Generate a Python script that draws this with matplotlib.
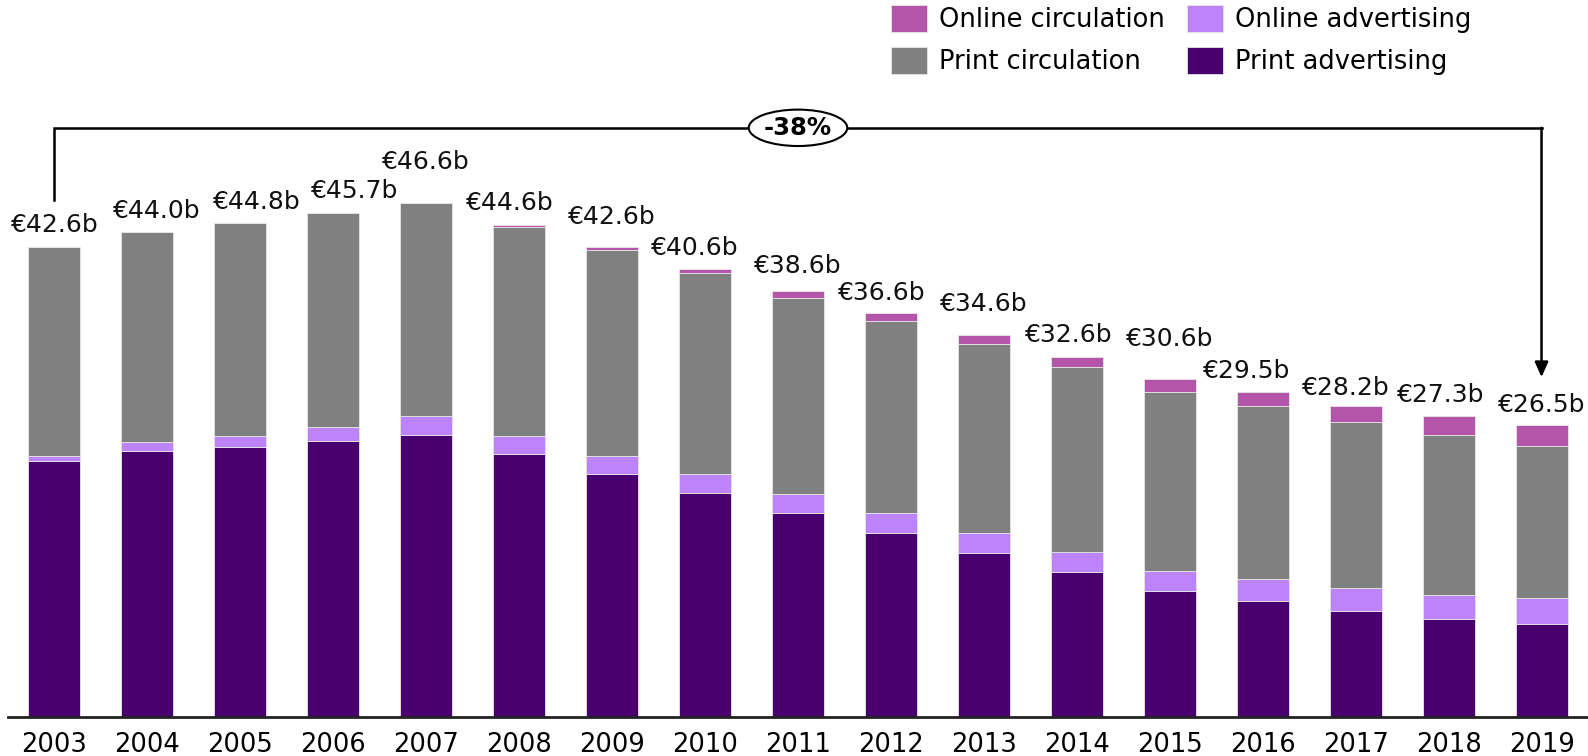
import numpy as np
import matplotlib.pyplot as plt
from matplotlib.patches import Ellipse

# data (EUR billions)
years = [str(y) for y in range(2003, 2020)]
print_adv = [23.2, 24.1, 24.5, 25.0, 25.6, 23.8, 22.0, 20.3, 18.5, 16.7, 14.9, 13.1, 11.4, 10.5, 9.6, 8.9, 8.4]
online_adv = [0.5, 0.8, 1.0, 1.3, 1.7, 1.7, 1.7, 1.7, 1.7, 1.8, 1.8, 1.9, 1.8, 2.0, 2.1, 2.2, 2.4]
print_circ = [18.9, 19.1, 19.3, 19.4, 19.3, 18.9, 18.6, 18.2, 17.8, 17.4, 17.1, 16.7, 16.3, 15.7, 15.0, 14.5, 13.8]
online_circ = [0.0, 0.0, 0.0, 0.0, 0.0, 0.2, 0.3, 0.4, 0.6, 0.7, 0.8, 0.9, 1.1, 1.3, 1.5, 1.7, 1.9]
totals = ["€42.6b", "€44.0b", "€44.8b", "€45.7b", "€46.6b", "€44.6b", "€42.6b", "€40.6b", "€38.6b",
          "€36.6b", "€34.6b", "€32.6b", "€30.6b", "€29.5b", "€28.2b", "€27.3b", "€26.5b"]
change = "-38%"

# label nudges (pixels) to keep the totals from colliding
lab_dx = [0, 9, 17, 21, 0, -9, 0, -10, 0, -9, 0, -8, 0, -16, -10, -8, 0]
lab_dy = [22, 21, 21, 22, 41, 22, 30, 21, 25, 20, 31, 22, 40, 21, 18, 21, 20]

c_padv = "#47006E"
c_oadv = "#BD83FB"
c_pcirc = "#808080"
c_ocirc = "#B355A8"

plt.rcParams['font.family'] = ['DejaVu Sans']

fig = plt.figure(figsize=(15.88, 7.56), dpi=100)
ax = fig.add_axes([8/1588, 39/756, 1 - 8/1588, 662/756])

x = np.arange(len(years))
w = 0.56
pa = np.array(print_adv)
oa = np.array(online_adv)
pc = np.array(print_circ)
oc = np.array(online_circ)
tot = pa + oa + pc + oc

kw = dict(width=w, edgecolor="#e6e6e6", linewidth=0.6)
b1 = ax.bar(x, pa, color=c_padv, label="Print advertising", **kw)
b2 = ax.bar(x, oa, bottom=pa, color=c_oadv, label="Online advertising", **kw)
b3 = ax.bar(x, pc, bottom=pa + oa, color=c_pcirc, label="Print circulation", **kw)
b4 = ax.bar(x, oc, bottom=pa + oa + pc, color=c_ocirc, label="Online circulation", **kw)

for i in range(len(years)):
    ax.annotate(totals[i], (x[i], tot[i]), xytext=(lab_dx[i] * 0.72, lab_dy[i] * 0.72),
                textcoords="offset points", ha="center", va="center", fontsize=18,
                color="#111111", annotation_clip=False)

ax.set_xlim(-0.5, len(years) - 0.5)
ax.set_ylim(0, 60)
ax.set_xticks(x)
ax.set_xticklabels(years, fontsize=18.5)
ax.tick_params(axis="x", length=0, pad=11)
ax.set_yticks([])
for s in ["top", "right", "left"]:
    ax.spines[s].set_visible(False)
ax.spines["bottom"].set_linewidth(2)
ax.spines["bottom"].set_color("#222222")

# bracket showing the overall decline
ytop = 53.4
ax.plot([x[0], x[0], x[-1]], [46.9, ytop, ytop], color="black", lw=1.8, clip_on=False,
        solid_joinstyle="miter")
ax.annotate("", xy=(x[-1], 30.8), xytext=(x[-1], ytop),
            arrowprops=dict(arrowstyle="-|>,head_length=0.9,head_width=0.4", color="black",
                            lw=1.8, shrinkA=0, shrinkB=0), annotation_clip=False)
xm = (x[0] + x[-1]) / 2
ax.add_patch(Ellipse((xm, ytop), 1.06, 3.3, fc="white", ec="black", lw=1.5, clip_on=False, zorder=3))
ax.text(xm, ytop, change, ha="center", va="center", fontsize=17.5, fontweight="bold", zorder=4)

handles = [b4, b3, b2, b1]
fig.legend(handles, [h.get_label() for h in handles], ncol=2, loc="upper left",
           bbox_to_anchor=(891/1588, 1 - 5/756), frameon=False, fontsize=18.5,
           handlelength=1.4, handleheight=1.24, handletextpad=0.47, columnspacing=0.85,
           labelspacing=0.55, borderpad=0, borderaxespad=0)

fig.savefig("out.png", dpi=100)
